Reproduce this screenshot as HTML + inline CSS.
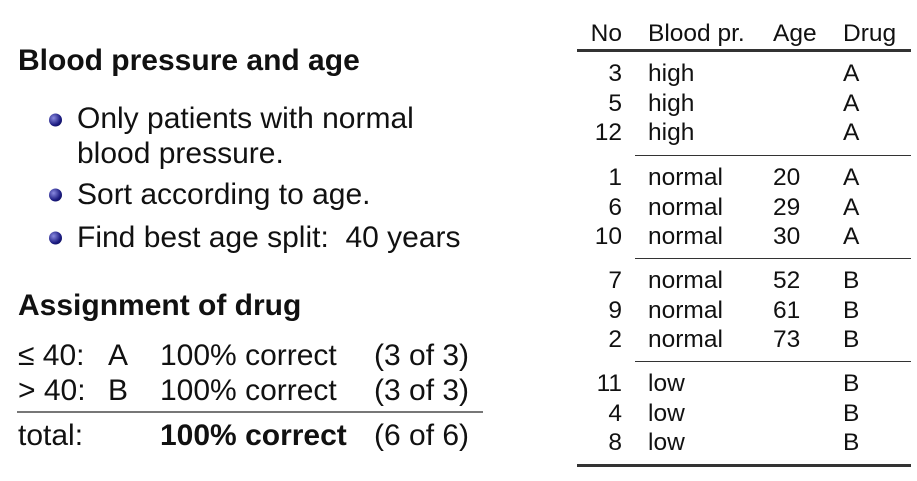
<!DOCTYPE html>
<html><head><meta charset="utf-8"><style>
body{margin:0;width:917px;height:481px;background:#fff;position:relative;overflow:hidden;font-family:"Liberation Sans",sans-serif;color:#111}
.t{position:absolute;white-space:nowrap;line-height:1;transform:translateY(-50%)}
.h{font-weight:bold;font-size:30px}
.b{font-size:30px}
.c{font-size:24.5px}
.ball{position:absolute;width:13px;height:13px;border-radius:50%;background:radial-gradient(circle at 35% 35%,#8a8ae0,#1a1a80 60%,#0a0a40);transform:translateY(-50%)}
.ln{position:absolute;background:#333}
</style></head><body>
<div class="t h" style="left:18px;top:61px">Blood pressure and age</div>
<div class="ball" style="left:49px;top:120px"></div>
<div class="t b" style="left:77px;top:119px">Only patients with normal</div>
<div class="t b" style="left:77px;top:154px">blood pressure.</div>
<div class="ball" style="left:49px;top:195px"></div>
<div class="t b" style="left:77px;top:195px">Sort according to age.</div>
<div class="ball" style="left:49px;top:238px"></div>
<div class="t b" style="left:77px;top:238px">Find best age split:&nbsp; 40 years</div>
<div class="t h" style="left:18px;top:306px">Assignment of drug</div>

<div class="t b" style="left:18px;top:356px">≤ 40:</div>
<div class="t b" style="left:108px;top:356px">A</div>
<div class="t b" style="left:160px;top:356px">100% correct</div>
<div class="t b" style="left:374px;top:356px">(3 of 3)</div>
<div class="t b" style="left:18px;top:391px">&gt; 40:</div>
<div class="t b" style="left:108px;top:391px">B</div>
<div class="t b" style="left:160px;top:391px">100% correct</div>
<div class="t b" style="left:374px;top:391px">(3 of 3)</div>
<div class="ln" style="left:17px;top:411px;width:466px;height:1.5px;background:#777"></div>
<div class="t b" style="left:18px;top:436px">total:</div>
<div class="t b" style="left:160px;top:436px;font-weight:bold">100% correct</div>
<div class="t b" style="left:374px;top:436px">(6 of 6)</div>

<div id="tbl"></div>
<script>
const nos=["3","5","12","1","6","10","7","9","2","11","4","8"];
const bp=["high","high","high","normal","normal","normal","normal","normal","normal","low","low","low"];
const ages=["","","","20","29","30","52","61","73","","",""];
const drugs=["A","A","A","A","A","A","B","B","B","B","B","B"];
const ys=[74,104,133,178,208,237,281,311,340,384,414,443];
function add(txt,x,y,right,name){const d=document.createElement('div');d.className='t c';d.textContent=txt;d.style.top=y+'px';
if(right){d.style.right=(917-x)+'px';}else d.style.left=x+'px';


document.body.appendChild(d);}
add("No",622,34,true,'header-no');add("Blood pr.",648,34,false,'header-bp');add("Age",773,34,false,'header-age');add("Drug",843,34,false,'header-drug');
for(let i=0;i<nos.length;i++){add(nos[i],622,ys[i],true,'cell-no');add(bp[i],648,ys[i],false,'cell-bp');if(ages[i])add(ages[i],773,ys[i],false,'cell-age');add(drugs[i],843,ys[i],false,'cell-drug');}
function line(x,y,w,h,name){const l=document.createElement('div');l.className='ln';l.style.cssText=`left:${x}px;top:${y}px;width:${w}px;height:${h}px`;


document.body.appendChild(l);}
line(577,49,334,2.5,'header-rule');line(635,155,276,1.2,'group-rule');line(635,258,276,1.2,'group-rule');line(635,361,276,1.2,'group-rule');line(577,464,334,2.5,'bottom-rule');
</script>
</body></html>
